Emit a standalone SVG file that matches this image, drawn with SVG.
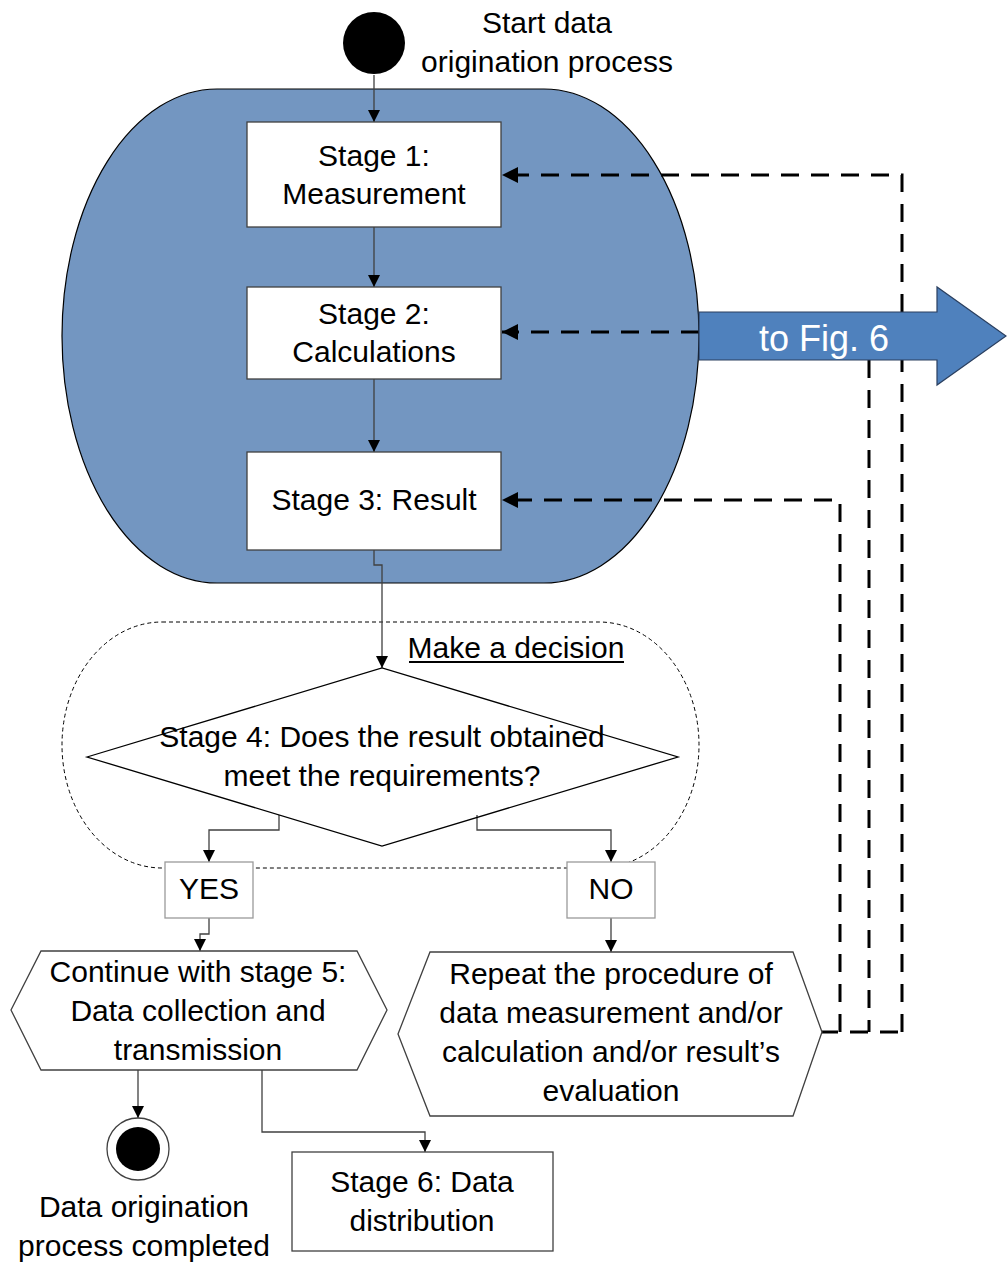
<svg xmlns="http://www.w3.org/2000/svg" width="1007" height="1263" viewBox="0 0 1007 1263">
<defs>
<style>
.t{font-family:"Liberation Sans",Arial,sans-serif;font-size:30px;fill:#000;text-anchor:middle}
.box{fill:#fff;stroke:#404040;stroke-width:1.3}
.lbl{fill:#fff;stroke:#9a9a9a;stroke-width:1.3}
.con{fill:none;stroke:#404040;stroke-width:1.3}
.dash{fill:none;stroke:#000;stroke-width:3;stroke-dasharray:18 12}
</style>
<marker id="a" markerUnits="userSpaceOnUse" markerWidth="12" markerHeight="12" refX="12" refY="6" orient="auto"><path d="M0,0 L12,6 L0,12 z" fill="#000"/></marker>
<marker id="b" markerUnits="userSpaceOnUse" markerWidth="16" markerHeight="16" refX="16" refY="8" orient="auto"><path d="M0,0 L16,8 L0,16 z" fill="#000"/></marker>
</defs>

<g id="process-area">
<rect x="62" y="89" width="637" height="494" rx="155" ry="247" fill="#7396C1" stroke="#000" stroke-width="1.2"/>
</g>

<g id="decision-area">
<rect x="62" y="622" width="637" height="246" rx="100" ry="123" fill="none" stroke="#000" stroke-width="1" stroke-dasharray="4 3"/>
<text class="t" x="516" y="658">Make a decision</text>
<line x1="409" y1="662" x2="624" y2="662" stroke="#000" stroke-width="2"/>
</g>

<g id="connectors">
<line class="con" x1="374" y1="75" x2="374" y2="122" marker-end="url(#a)"/>
<line class="con" x1="374" y1="227" x2="374" y2="287" marker-end="url(#a)"/>
<line class="con" x1="374" y1="379" x2="374" y2="452" marker-end="url(#a)"/>
<path class="con" d="M374,550 V565 H382 V668" marker-end="url(#a)"/>
<path class="con" d="M279,815 V830 H209 V862" marker-end="url(#a)"/>
<path class="con" d="M477,815 V830 H611 V862" marker-end="url(#a)"/>
<path class="con" d="M209,918 V934 H200 V951" marker-end="url(#a)"/>
<line class="con" x1="611" y1="918" x2="611" y2="952" marker-end="url(#a)"/>
<line class="con" x1="138" y1="1070" x2="138" y2="1118" marker-end="url(#a)"/>
<path class="con" d="M262,1070 V1132 H425 V1152" marker-end="url(#a)"/>
<path class="dash" d="M902,1032 V175 H502" marker-end="url(#b)"/>
<path class="dash" d="M699,332 H502" marker-end="url(#b)"/>
<path class="dash" d="M840,1032 V500 H502" marker-end="url(#b)"/>
<path class="dash" d="M869,360 V1032"/>
<path class="dash" d="M820,1032 H902"/>
</g>

<g id="start">
<circle cx="374" cy="43" r="31" fill="#000"/>
<text class="t" x="547" y="33">Start data</text>
<text class="t" x="547" y="72">origination process</text>
</g>

<g id="stage1">
<rect class="box" x="247" y="122" width="254" height="105"/>
<text class="t" x="374" y="166">Stage 1:</text>
<text class="t" x="374" y="204">Measurement</text>
</g>

<g id="stage2">
<rect class="box" x="247" y="287" width="254" height="92"/>
<text class="t" x="374" y="324">Stage 2:</text>
<text class="t" x="374" y="362">Calculations</text>
</g>

<g id="stage3">
<rect class="box" x="247" y="452" width="254" height="98"/>
<text class="t" x="374" y="510">Stage 3: Result</text>
</g>

<g id="to-fig6">
<path d="M699,312 H937 V287 L1006,336 L937,385 V360 H699 Z" fill="#4F81BD" stroke="#2a3f5f" stroke-width="1.2"/>
<text class="t" x="824" y="351" style="fill:#fff;font-size:36px">to Fig. 6</text>
</g>

<g id="stage4">
<path d="M87,757 L382,668 L678,757 L382,846 Z" fill="none" stroke="#000" stroke-width="1.3"/>
<text class="t" x="382" y="747">Stage 4: Does the result obtained</text>
<text class="t" x="382" y="786">meet the requirements?</text>
</g>

<g id="yes">
<rect class="lbl" x="165" y="862" width="88" height="56"/>
<text class="t" x="209" y="899">YES</text>
</g>

<g id="no">
<rect class="lbl" x="567" y="862" width="88" height="56"/>
<text class="t" x="611" y="899">NO</text>
</g>

<g id="stage5">
<path d="M11,1010 L41,951 H357 L387,1010 L357,1070 H41 Z" fill="#fff" stroke="#404040" stroke-width="1.3"/>
<text class="t" x="198" y="982">Continue with stage 5:</text>
<text class="t" x="198" y="1021">Data collection and</text>
<text class="t" x="198" y="1060">transmission</text>
</g>

<g id="repeat">
<path d="M398,1034 L430,952 H793 L822,1032 L793,1116 H430 Z" fill="#fff" stroke="#404040" stroke-width="1.3"/>
<text class="t" x="611" y="984">Repeat the procedure of</text>
<text class="t" x="611" y="1023">data measurement and/or</text>
<text class="t" x="611" y="1062">calculation and/or result’s</text>
<text class="t" x="611" y="1101">evaluation</text>
</g>

<g id="end">
<circle cx="138" cy="1149" r="31" fill="#fff" stroke="#404040" stroke-width="1.3"/>
<circle cx="138" cy="1149" r="22" fill="#000"/>
<text class="t" x="144" y="1217">Data origination</text>
<text class="t" x="144" y="1256">process completed</text>
</g>

<g id="stage6">
<rect class="box" x="292" y="1152" width="261" height="99"/>
<text class="t" x="422" y="1192">Stage 6: Data</text>
<text class="t" x="422" y="1231">distribution</text>
</g>
</svg>
